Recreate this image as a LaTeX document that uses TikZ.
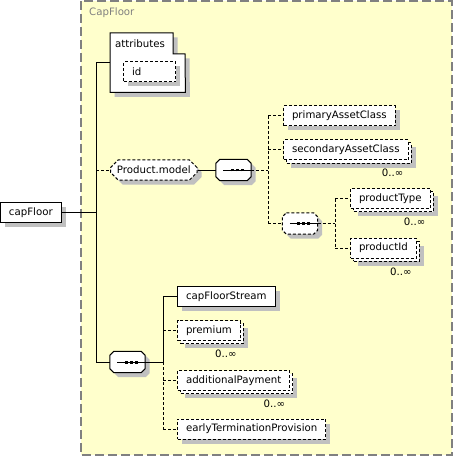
\documentclass[tikz,border=0pt]{standalone}
\usepackage{fontspec}
\setmainfont{DejaVu Sans}
\usetikzlibrary{positioning}
\usetikzlibrary{shapes.misc}
\usetikzlibrary{shadows}

\definecolor{groupfill}{RGB}{255,255,204}
\definecolor{shadowgray}{RGB}{192,192,192}
\definecolor{framegray}{RGB}{128,128,128}

%Sequence mark: a bar with three dots
\newcommand{\seqglyph}{\rlap{\rule[-0.5pt]{28pt}{1pt}}\hspace{7.5pt}\rule[-1.5pt]{3pt}{3pt}\hspace{2pt}\rule[-1.5pt]{3pt}{3pt}\hspace{2pt}\rule[-1.5pt]{3pt}{3pt}\hspace{7.5pt}}
%Octagon round a sequence slot
\newcommand{\seqoutline}[2][]{\draw[seqline, #1] ([xshift=4pt]#2.north west) -- ([xshift=-4pt]#2.north east)
	-- ([yshift=-4pt]#2.north east) -- ([yshift=4pt]#2.south east) -- ([xshift=-4pt]#2.south east)
	-- ([xshift=4pt]#2.south west) -- ([yshift=4pt]#2.south west) -- ([yshift=-4pt]#2.north west) -- cycle;}

\begin{document}
\begin{tikzpicture}
	[x=1pt, y=-1pt,
	font=\fontsize{10.2pt}{12pt}\selectfont,
	boxshadow/.style={drop shadow={shadow xshift=4.5pt, shadow yshift=-4.5pt, fill=shadowgray, opacity=1}},
	boxbase/.style={rectangle, draw=black, fill=white, line width=1pt, minimum height=20pt, inner xsep=8.5pt, inner ysep=0pt, anchor=west},
	elembox/.style={boxbase, boxshadow},
	optbox/.style={boxbase, boxshadow, dash pattern=on 3pt off 2pt},
	manybox/.style={boxbase, dash pattern=on 3pt off 2pt,
		drop shadow={shadow xshift=7.5pt, shadow yshift=-7.5pt, fill=shadowgray, opacity=1},
		general shadow={shadow xshift=3pt, shadow yshift=-3pt, fill=white, draw=black, line width=1pt, dash pattern=on 3pt off 2pt}},
	seqslot/.style={rectangle, minimum width=35pt, minimum height=21pt, inner sep=0pt},
	seqline/.style={draw=black, fill=white, line width=1pt, boxshadow},
	groupbox/.style={chamfered rectangle, chamfered rectangle xsep=5pt, draw=black, fill=white, line width=1pt,
		minimum height=20pt, inner xsep=2.5pt, inner ysep=0pt, boxshadow, dash pattern=on 3pt off 2pt},
	mult/.style={inner sep=0pt},
	link/.style={line width=1pt},
	optlink/.style={line width=1pt, dash pattern=on 3pt off 2pt}
	]

	%Frame
	\useasboundingbox (0,0) rectangle (455,457);
	\draw[framegray, fill=groupfill, line width=1.3pt, dash pattern=on 9pt off 4pt] (81,1) rectangle (452,455);
	\node(frameTitle)[anchor=west, inner sep=0pt, text=framegray] at (89,13) {CapFloor};

	%Root
	\node(capFloor)[elembox] at (0,212.5) {capFloor};

	%Attributes
	\node(attrGroup)[minimum width=75pt, minimum height=59pt, anchor=north west, inner sep=0pt] at (110,33) {};
	\draw[line width=1pt, fill=white, boxshadow] (attrGroup.north west) -- ++(63,0) -- ++(0,21) -- ++(12,0)
		-- (attrGroup.south east) -- (attrGroup.south west) -- cycle;
	\node(attrs)[anchor=north west, inner xsep=5pt, inner ysep=0pt, minimum height=21pt] at (attrGroup.north west) {attributes};
	\node(id)[optbox, text width=35pt] at (123,72) {id};

	%Product.model
	\node(model)[groupbox, anchor=west] at (110,170) {Product.model};
	\node(seqA)[seqslot] at (233.5,170) {};
	\seqoutline{seqA}
	\node(seqAmark)[inner sep=0pt] at (seqA.center) {\seqglyph};
	\node(primary)[optbox] at (283,116) {primaryAssetClass};
	\node(secondary)[manybox] at (283,150) {secondaryAssetClass};
	\node(seqB)[seqslot] at (300,223.5) {};
	\seqoutline[dash pattern=on 3pt off 2pt]{seqB}
	\node(seqBmark)[inner sep=0pt] at (seqB.center) {\seqglyph};
	\node(prodType)[manybox] at (350,198.5) {productType};
	\node(prodId)[manybox] at (350,248) {productId};

	%Streams
	\node(seqC)[seqslot] at (127.5,362) {};
	\seqoutline{seqC}
	\node(seqCmark)[inner sep=0pt] at (seqC.center) {\seqglyph};
	\node(capStream)[elembox] at (177,296.5) {capFloorStream};
	\node(premium)[manybox] at (177,330.5) {premium};
	\node(addPay)[manybox] at (177,380.5) {additionalPayment};
	\node(earlyTerm)[optbox] at (177,429) {earlyTerminationProvision};

	%Multiplicities
	\node(secondaryMult)[mult, below=8pt of secondary.south east, anchor=north east, xshift=-5pt] {0..∞};
	\node(prodTypeMult)[mult, below=9pt of prodType.south east, anchor=north east, xshift=-5pt] {0..∞};
	\node(prodIdMult)[mult, below=9pt of prodId.south east, anchor=north east, xshift=-5pt] {0..∞};
	\node(premiumMult)[mult, below=9pt of premium.south east, anchor=north east, xshift=-4pt] {0..∞};
	\node(addPayMult)[mult, below=9pt of addPay.south east, anchor=north east, xshift=-5pt] {0..∞};

	%Connectors
	\coordinate(spineA) at (96,0);
	\coordinate(forkA) at (268,0);
	\coordinate(forkB) at (335,0);
	\coordinate(forkC) at (163,0);

	\draw[link] (capFloor.east) -- (spineA |- capFloor.east);
	\draw[link] (spineA |- attrGroup.west) -- (spineA |- seqC.west);
	\draw[link] (spineA |- attrGroup.west) -- (attrGroup.west);
	\draw[optlink] (spineA |- model.west) -- (model.west);
	\draw[link] (spineA |- seqC.west) -- (seqC.west);

	\draw[link] (model.east) -- (seqA.west);
	\draw[optlink] (seqA.east) -- (forkA |- seqA.east);
	\draw[optlink] (forkA |- primary.west) -- (forkA |- seqB.west);
	\draw[optlink] (forkA |- primary.west) -- (primary.west);
	\draw[optlink] (forkA |- secondary.west) -- (secondary.west);
	\draw[optlink] (forkA |- seqB.west) -- (seqB.west);

	\draw[optlink] (seqB.east) -- (forkB |- seqB.east);
	\draw[optlink] (forkB |- prodType.west) -- (forkB |- prodId.west);
	\draw[optlink] (forkB |- prodType.west) -- (prodType.west);
	\draw[optlink] (forkB |- prodId.west) -- (prodId.west);

	\draw[link] (seqC.east) -- (forkC |- seqC.east);
	\draw[link] (forkC |- capStream.west) -- (forkC |- seqC.east);
	\draw[optlink] (forkC |- seqC.east) -- (forkC |- earlyTerm.west);
	\draw[link] (forkC |- capStream.west) -- (capStream.west);
	\draw[optlink] (forkC |- premium.west) -- (premium.west);
	\draw[optlink] (forkC |- addPay.west) -- (addPay.west);
	\draw[optlink] (forkC |- earlyTerm.west) -- (earlyTerm.west);

\end{tikzpicture}
\end{document}
